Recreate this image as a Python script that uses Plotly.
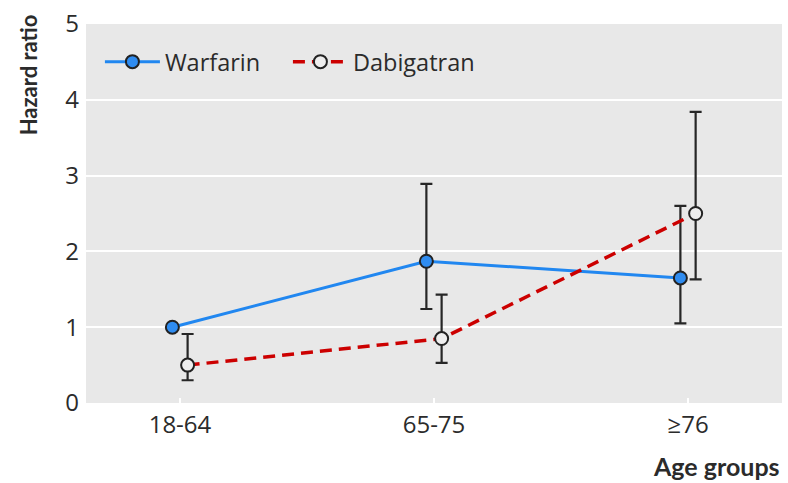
import plotly.graph_objects as go

# Age groups on the x axis
age_groups = ["18-64", "65-75", "≥76"]

# Hazard ratios with 95% confidence limits
warfarin_hr = [1.0, 1.87, 1.65]
warfarin_upper = [1.0, 2.89, 2.60]
warfarin_lower = [1.0, 1.24, 1.05]

dabigatran_hr = [0.50, 0.85, 2.50]
dabigatran_upper = [0.91, 1.43, 3.84]
dabigatran_lower = [0.30, 0.53, 1.63]

y_ticks = [0, 1, 2, 3, 4, 5]

# small horizontal dodge so the two series' error bars don't overlap
dodge = 0.03
x_base = list(range(len(age_groups)))
x_warf = [x - dodge for x in x_base]
x_dabi = [x + dodge for x in x_base]

FONT = "Open Sans"
TITLE_FONT = "Lato"
TEXT = "#2b2b2b"
ERR = "#262626"

fig = go.Figure()

fig.add_trace(go.Scatter(
    x=x_warf, y=warfarin_hr, name="Warfarin", mode="lines+markers",
    line=dict(color="#2187f0", width=3),
    marker=dict(size=13, color="#2f8cf0", line=dict(color="#222222", width=2)),
    error_y=dict(type="data", symmetric=False,
                 array=[u - v for u, v in zip(warfarin_upper, warfarin_hr)],
                 arrayminus=[v - l for v, l in zip(warfarin_hr, warfarin_lower)],
                 color=ERR, thickness=2.2, width=6),
))

fig.add_trace(go.Scatter(
    x=x_dabi, y=dabigatran_hr, name="Dabigatran", mode="lines+markers",
    line=dict(color="#cc0000", width=3.5, dash="12px,7px"),
    marker=dict(size=13, color="#eeeeee", line=dict(color="#222222", width=2)),
    error_y=dict(type="data", symmetric=False,
                 array=[u - v for u, v in zip(dabigatran_upper, dabigatran_hr)],
                 arrayminus=[v - l for v, l in zip(dabigatran_hr, dabigatran_lower)],
                 color=ERR, thickness=2.2, width=6),
))

fig.update_layout(
    width=788, height=483,
    margin=dict(l=86, r=6, t=22, b=80),
    paper_bgcolor="white",
    plot_bgcolor="#e8e8e8",
    font=dict(family=FONT, size=23, color=TEXT),
    showlegend=True,
    legend=dict(orientation="h", x=0.02, y=0.9, xanchor="left", yanchor="middle",
                bgcolor="rgba(0,0,0,0)", font=dict(size=23.5, color=TEXT),
                itemwidth=55, entrywidth=118),
    xaxis=dict(
        range=[-0.37, 2.37], tickvals=x_base, ticktext=age_groups,
        showgrid=False, zeroline=False, showline=False,
        ticks="inside", ticklen=5, tickwidth=2, tickcolor="white",
        ticklabelstandoff=5,
        tickfont=dict(size=24, color=TEXT),
    ),
    yaxis=dict(
        range=[0, 5], tickvals=y_ticks, showgrid=True, gridcolor="white",
        gridwidth=2, zeroline=False, showline=False, ticks="",
        ticklabelstandoff=6,
        tickfont=dict(size=24, color=TEXT),
    ),
    annotations=[
        dict(text="<b>Hazard ratio</b>", textangle=-90, xref="paper", yref="paper",
             x=-0.083, y=1.03, xanchor="center", yanchor="top", showarrow=False,
             font=dict(family=TITLE_FONT, size=22, color=TEXT)),
        dict(text="<b>Age groups</b>", xref="paper", yref="paper",
             x=1.0, y=-0.165, xanchor="right", yanchor="middle", showarrow=False,
             font=dict(family=TITLE_FONT, size=25, color=TEXT)),
    ],
)

fig.write_html("out.html")
